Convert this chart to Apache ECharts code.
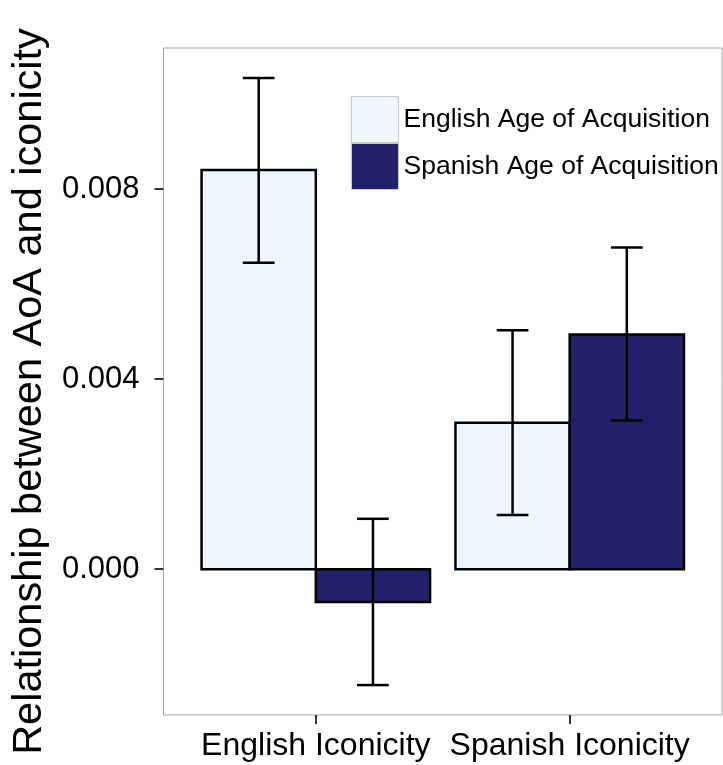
<!DOCTYPE html>
<html>
<head>
<meta charset="utf-8">
<script src="https://cdn.jsdelivr.net/npm/echarts@6/dist/echarts.min.js"></script>
<style>
  html, body { margin: 0; padding: 0; background: #fff; }
  #chart { width: 723px; height: 765px; }
</style>
</head>
<body>
<div id="chart"></div>
<script>
// groups on the x axis
const categories = ['English Iconicity', 'Spanish Iconicity'];
const seriesNames = ['English Age of Acquisition', 'Spanish Age of Acquisition'];

// English AoA bars + error bar ends
const engAoA = [0.0084, 0.00308];
const engAoALow = [0.00645, 0.00114];
const engAoAHigh = [0.01034, 0.00503];

// Spanish AoA bars + error bar ends
const spaAoA = [-0.00069, 0.00494];
const spaAoALow = [-0.00244, 0.00313];
const spaAoAHigh = [0.00106, 0.00677];

const yTicks = [0, 0.004, 0.008];
const xTicks = [1, 2];

const colors = ['#EFF6FE', '#221F6B'];
const barW = 0.45;   // dodge width per bar (ggplot 0.9 / 2)
const capW = 0.125;

const makeData = (vals, lows, highs) =>
  vals.map((v, i) => [i + 1, v, lows[i], highs[i]]);

const makeRender = (offset, color) => (params, api) => {
  const x = api.value(0) + offset;
  const base = api.coord([x, 0]);
  const top = api.coord([x, api.value(1)]);
  const lo = api.coord([x, api.value(2)]);
  const hi = api.coord([x, api.value(3)]);
  const w = api.size([barW, 0])[0];
  const cw = api.size([capW, 0])[0];
  const y0 = Math.min(base[1], top[1]);
  const h = Math.abs(base[1] - top[1]);
  const line = { stroke: '#000', lineWidth: 2.5 };
  return {
    type: 'group',
    children: [
      { type: 'rect', shape: { x: base[0] - w / 2, y: y0, width: w, height: h },
        style: { fill: color, stroke: '#000', lineWidth: 2.5 } },
      { type: 'line', shape: { x1: base[0], y1: lo[1], x2: base[0], y2: hi[1] }, style: line },
      { type: 'line', shape: { x1: base[0] - cw / 2, y1: lo[1], x2: base[0] + cw / 2, y2: lo[1] }, style: line },
      { type: 'line', shape: { x1: base[0] - cw / 2, y1: hi[1], x2: base[0] + cw / 2, y2: hi[1] }, style: line }
    ]
  };
};

const chart = echarts.init(document.getElementById('chart'), null, { renderer: 'canvas' });

chart.setOption({
  animation: false,
  textStyle: { fontFamily: 'Liberation Sans, Arial, sans-serif' },
  grid: {
    left: 163.5, top: 48, right: 1, bottom: 50,
    outerBoundsMode: 'none',
    containLabel: false,
    show: true, borderColor: '#a6a6a6', borderWidth: 1, backgroundColor: '#fff'
  },
  legend: {
    data: seriesNames,
    orient: 'vertical',
    left: 351, top: 96,
    padding: 0,
    itemGap: 0,
    itemWidth: 47,
    itemHeight: 46,
    icon: 'rect',
    itemStyle: { borderColor: '#c8c8c8', borderWidth: 1 },
    textStyle: { fontSize: 26.5, color: '#000', padding: [4, 0, 0, 0] }
  },
  xAxis: {
    type: 'value',
    min: 0.4, max: 2.6,
    splitLine: { show: false },
    axisLine: { show: false, onZero: false },
    axisTick: { show: true, customValues: xTicks, length: 9, lineStyle: { color: '#333', width: 2 } },
    axisLabel: {
      customValues: xTicks,
      formatter: v => categories[Math.round(v) - 1],
      fontSize: 32, color: '#000', margin: 15
    }
  },
  yAxis: {
    type: 'value',
    min: -0.00307, max: 0.01097,
    name: 'Relationship between AoA and iconicity',
    nameLocation: 'middle',
    nameGap: 111,
    nameTextStyle: { fontSize: 41.5, color: '#000', padding: [0, 20, 0, 0] },
    splitLine: { show: false },
    axisLine: { show: false, onZero: false },
    axisTick: { show: true, customValues: yTicks, length: 9, lineStyle: { color: '#333', width: 2 } },
    axisLabel: {
      customValues: yTicks,
      formatter: v => v.toFixed(3),
      fontSize: 31, color: '#000', margin: 24
    }
  },
  series: [
    {
      name: seriesNames[0], type: 'custom',
      itemStyle: { color: colors[0] },
      renderItem: makeRender(-barW / 2, colors[0]),
      encode: { x: 0, y: [1, 2, 3] },
      data: makeData(engAoA, engAoALow, engAoAHigh)
    },
    {
      name: seriesNames[1], type: 'custom',
      itemStyle: { color: colors[1] },
      renderItem: makeRender(barW / 2, colors[1]),
      encode: { x: 0, y: [1, 2, 3] },
      data: makeData(spaAoA, spaAoALow, spaAoAHigh)
    }
  ]
});
</script>
</body>
</html>
